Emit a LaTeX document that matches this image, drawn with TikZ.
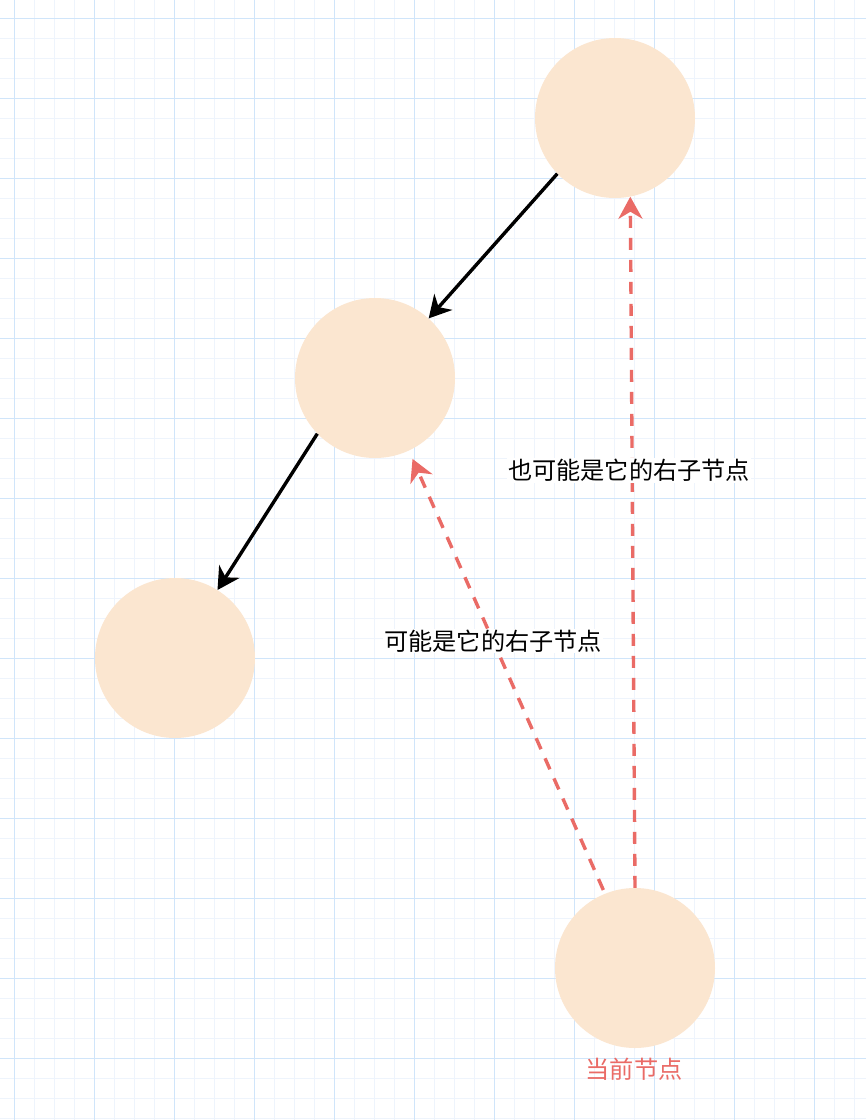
\documentclass[tikz,border=0pt]{standalone}
\usepackage{fontspec}
\setmainfont{Noto Sans CJK SC}
\usetikzlibrary{arrows.meta}
\definecolor{nodefill}{HTML}{FBE6D0}
\definecolor{redline}{HTML}{EA6B66}
\definecolor{gridmajor}{HTML}{D0E5FA}
\definecolor{gridminor}{HTML}{EEF4FC}
\tikzset{
  treenode/.style={circle,fill=nodefill,draw=none,minimum size=160pt,inner sep=0pt},
  blackarrow/.style={draw=black,line width=3.4pt,-{Stealth[length=22pt,width=24pt,inset=7pt]}},
  redarrow/.style={draw=redline,line width=3.4pt,dash pattern=on 12pt off 10pt,-{Stealth[length=22pt,width=24pt,inset=7pt]}},
  lbl/.style={fill=white,inner sep=1pt,text=black,font=\fontsize{24.2pt}{27pt}\selectfont},
  redlbl/.style={inner sep=0pt,text=redline,font=\fontsize{24.2pt}{27pt}\selectfont},
}
\begin{document}
\begin{tikzpicture}[x=1pt,y=-1pt]
\useasboundingbox (0,0) rectangle (866,1120);
\fill[white] (0,0) rectangle (866,1120);
% minor grid
\foreach \x in {-6,14,...,866} \draw[gridminor,line width=1pt] (\x,0) -- (\x,1120);
\foreach \y in {-2,18,...,1120} \draw[gridminor,line width=1pt] (0,\y) -- (866,\y);
% major grid
\foreach \x in {14,94,...,866} \draw[gridmajor,line width=1pt] (\x,0) -- (\x,1120);
\foreach \y in {18,98,...,1120} \draw[gridmajor,line width=1pt] (0,\y) -- (866,\y);
% nodes
\node[treenode] (top) at (615,118) {};
\node[treenode] (mid) at (375,378) {};
\node[treenode] (left) at (175,658) {};
\node[treenode] (cur) at (635,968) {};
\node[redlbl] (curlbl) at (634,1069) {当前节点};
% black arrows
\draw[blackarrow] (top.224.5) -- (mid.48.5);
\draw[blackarrow] (mid.224) -- (left.58.4);
% red dashed arrows
\draw[redarrow] (cur.90) -- (top.281) node[lbl,pos=0.604,xshift=-3pt] (lbl1) {也可能是它的右子节点};
\draw[redarrow,shorten <=4pt,shorten >=9pt] (cur.112) -- (mid.295) node[lbl,pos=0.57] (lbl2) {可能是它的右子节点};
\end{tikzpicture}
\end{document}
